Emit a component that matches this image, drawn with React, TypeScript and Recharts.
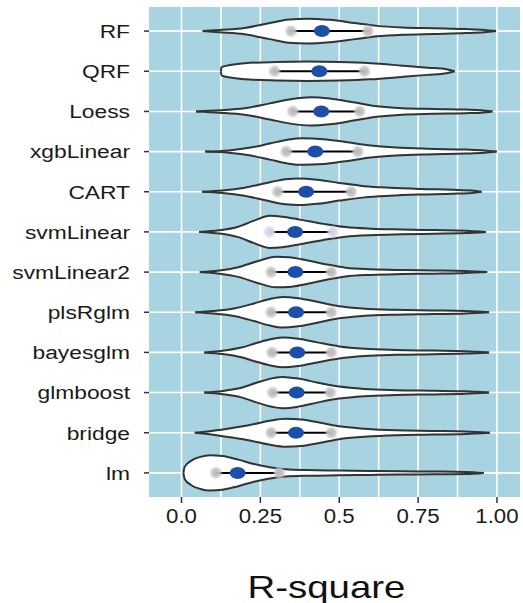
import { Area, CartesianGrid, ComposedChart, Line, Scatter, XAxis, YAxis } from 'recharts';

const MODELS = ['RF', 'QRF', 'Loess', 'xgbLinear', 'CART', 'svmLinear', 'svmLinear2', 'plsRglm', 'bayesglm', 'glmboost', 'bridge', 'lm'];
const Q25 = [0.347, 0.295, 0.353, 0.332, 0.305, 0.279, 0.284, 0.284, 0.287, 0.289, 0.284, 0.109];
const MEDIAN = [0.445, 0.437, 0.443, 0.424, 0.395, 0.36, 0.361, 0.363, 0.367, 0.365, 0.363, 0.178];
const Q75 = [0.591, 0.58, 0.565, 0.559, 0.538, 0.48, 0.475, 0.475, 0.475, 0.472, 0.475, 0.31];
const X_TICKS = [0, 0.25, 0.5, 0.75, 1];
const X_TICK_LABELS = ['0.0', '0.25', '0.5', '0.75', '1.00'];
const GRID_X = [0, 0.125, 0.25, 0.375, 0.5, 0.625, 0.75, 0.875, 1];

// violin outlines: [R-square, half width in row units]
const RF_DENSITY = [[0.067, 0], [0.12, 0.03], [0.2, 0.08], [0.28, 0.2], [0.34, 0.29], [0.4, 0.31], [0.47, 0.28], [0.55, 0.2], [0.62, 0.13], [0.7, 0.09], [0.8, 0.07], [0.9, 0.05], [0.96, 0.03], [0.997, 0]];
const QRF_DENSITY = [[0.125, 0], [0.127, 0.1], [0.15, 0.15], [0.2, 0.2], [0.3, 0.23], [0.4, 0.24], [0.5, 0.23], [0.6, 0.2], [0.7, 0.14], [0.78, 0.09], [0.84, 0.05], [0.866, 0]];
const LOESS_DENSITY = [[0.046, 0], [0.12, 0.03], [0.2, 0.08], [0.28, 0.2], [0.35, 0.31], [0.41, 0.35], [0.47, 0.32], [0.55, 0.22], [0.62, 0.13], [0.7, 0.08], [0.8, 0.06], [0.9, 0.045], [0.95, 0.03], [0.986, 0]];
const XGB_DENSITY = [[0.075, 0], [0.15, 0.03], [0.22, 0.1], [0.28, 0.2], [0.34, 0.3], [0.38, 0.33], [0.45, 0.31], [0.52, 0.24], [0.6, 0.15], [0.68, 0.1], [0.78, 0.07], [0.9, 0.05], [0.96, 0.03], [0.999, 0]];
const CART_DENSITY = [[0.065, 0], [0.13, 0.03], [0.2, 0.1], [0.27, 0.22], [0.33, 0.31], [0.37, 0.33], [0.43, 0.3], [0.5, 0.22], [0.58, 0.14], [0.66, 0.1], [0.76, 0.07], [0.86, 0.05], [0.92, 0.03], [0.951, 0]];
const SVM_DENSITY = [[0.056, 0], [0.12, 0.04], [0.18, 0.13], [0.23, 0.28], [0.28, 0.4], [0.32, 0.38], [0.38, 0.3], [0.45, 0.2], [0.52, 0.12], [0.6, 0.08], [0.7, 0.06], [0.8, 0.045], [0.9, 0.03], [0.965, 0]];
const SVM2_DENSITY = [[0.058, 0], [0.12, 0.04], [0.18, 0.12], [0.24, 0.27], [0.3, 0.38], [0.34, 0.37], [0.4, 0.29], [0.46, 0.19], [0.52, 0.11], [0.6, 0.07], [0.7, 0.05], [0.8, 0.04], [0.9, 0.025], [0.969, 0]];
const PLSR_DENSITY = [[0.044, 0], [0.1, 0.03], [0.17, 0.1], [0.23, 0.22], [0.28, 0.33], [0.32, 0.38], [0.37, 0.35], [0.43, 0.26], [0.5, 0.15], [0.58, 0.09], [0.68, 0.06], [0.8, 0.045], [0.9, 0.03], [0.975, 0]];
const BAYES_DENSITY = [[0.072, 0], [0.13, 0.04], [0.19, 0.12], [0.24, 0.24], [0.29, 0.34], [0.32, 0.37], [0.37, 0.34], [0.43, 0.25], [0.5, 0.15], [0.58, 0.09], [0.68, 0.06], [0.8, 0.045], [0.9, 0.03], [0.975, 0]];
const GLMB_DENSITY = [[0.072, 0], [0.13, 0.04], [0.19, 0.12], [0.24, 0.25], [0.29, 0.36], [0.32, 0.39], [0.37, 0.35], [0.43, 0.25], [0.5, 0.15], [0.58, 0.09], [0.68, 0.06], [0.8, 0.045], [0.9, 0.03], [0.975, 0]];
const BRIDGE_DENSITY = [[0.042, 0], [0.1, 0.05], [0.16, 0.12], [0.22, 0.2], [0.28, 0.3], [0.33, 0.35], [0.38, 0.33], [0.44, 0.25], [0.5, 0.16], [0.58, 0.1], [0.68, 0.06], [0.8, 0.045], [0.9, 0.03], [0.977, 0]];
const LM_DENSITY = [[0.006, 0], [0.01, 0.15], [0.03, 0.3], [0.06, 0.4], [0.09, 0.44], [0.13, 0.42], [0.18, 0.33], [0.23, 0.22], [0.28, 0.14], [0.33, 0.09], [0.4, 0.07], [0.5, 0.06], [0.6, 0.05], [0.7, 0.04], [0.8, 0.035], [0.9, 0.025], [0.958, 0]];

const DENSITIES = [RF_DENSITY, QRF_DENSITY, LOESS_DENSITY, XGB_DENSITY, CART_DENSITY, SVM_DENSITY, SVM2_DENSITY, PLSR_DENSITY, BAYES_DENSITY, GLMB_DENSITY, BRIDGE_DENSITY, LM_DENSITY];

const FONT = '"Liberation Sans", Arial, Helvetica, sans-serif';
const PANEL = '#a8d3e0';

const violinData = DENSITIES.map((d, i) => d.map(([x, w]) => ({ x, band: [i - w, i + w] })));
const iqrData = MODELS.map((_, i) => [{ x: Q25[i], v: i }, { x: Q75[i], v: i }]);
const quartileDots = MODELS.flatMap((m, i) => [
  { x: Q25[i], v: i, lav: m === 'svmLinear' },
  { x: Q75[i], v: i, lav: m === 'svmLinear' },
]);
const medianDots = MODELS.map((_, i) => ({ x: MEDIAN[i], v: i }));

function ModelTick({ x, y, payload }: any) {
  return (
    <g transform={`translate(${x},${y}) scale(1.2,1)`}>
      <text textAnchor="end" dy="0.36em" fontSize={19} fill="#1a1a1a" fontFamily={FONT}>
        {MODELS[payload.value]}
      </text>
    </g>
  );
}

function ValueTick({ x, y, payload }: any) {
  const idx = X_TICKS.indexOf(payload.value);
  return (
    <g transform={`translate(${x},${y}) scale(1.06,1)`}>
      <text textAnchor="middle" dy="0.71em" fontSize={21} fill="#1a1a1a" fontFamily={FONT}>
        {X_TICK_LABELS[idx]}
      </text>
    </g>
  );
}

function AxisTitle(props: any) {
  const vb = props.viewBox || { x: 149, y: 497, width: 371, height: 106 };
  const cx = vb.x + vb.width / 2 - 8;
  const by = vb.y + vb.height - 5;
  return (
    <g transform={`translate(${cx},${by}) scale(1.2,1)`}>
      <text textAnchor="middle" fontSize={32} fill="#111" fontFamily={FONT}>R-square</text>
    </g>
  );
}

function QuartileDot({ cx, cy, payload }: any) {
  return <circle cx={cx} cy={cy} r={7} fill={payload.lav ? 'url(#lavDot)' : 'url(#grayDot)'} />;
}

function MedianDot({ cx, cy }: any) {
  return <ellipse cx={cx} cy={cy} rx={8} ry={6} fill="#1d4ea8" />;
}

export default function App() {
  return (
    <div style={{ position: 'absolute', left: 0, top: 0, background: '#fff' }}>
      <ComposedChart width={523} height={603} margin={{ top: 7, right: 3, bottom: 0, left: 0 }}>
        <defs>
          <radialGradient id="grayDot">
            <stop offset="0%" stopColor="#b8b8b8" stopOpacity={1} />
            <stop offset="55%" stopColor="#c2c2c2" stopOpacity={0.9} />
            <stop offset="100%" stopColor="#d0d0d0" stopOpacity={0} />
          </radialGradient>
          <radialGradient id="lavDot">
            <stop offset="0%" stopColor="#cfd0ea" stopOpacity={1} />
            <stop offset="55%" stopColor="#d6d7ee" stopOpacity={0.9} />
            <stop offset="100%" stopColor="#dcdcf0" stopOpacity={0} />
          </radialGradient>
        </defs>
        <CartesianGrid
          fill={PANEL}
          fillOpacity={1}
          stroke="#ffffff"
          strokeWidth={1.6}
          verticalValues={GRID_X}
          horizontalValues={MODELS.map((_, i) => i)}
        />
        <XAxis
          type="number"
          dataKey="x"
          domain={[-0.103, 1.073]}
          allowDataOverflow
          ticks={X_TICKS}
          tick={<ValueTick />}
          tickSize={6}
          tickMargin={5}
          tickLine={{ stroke: '#333', strokeWidth: 1.5 }}
          axisLine={false}
          height={106}
          label={<AxisTitle />}
        />
        <YAxis
          type="number"
          domain={[-0.6, 11.6]}
          allowDataOverflow
          reversed
          ticks={MODELS.map((_, i) => i)}
          interval={0}
          tick={<ModelTick />}
          tickSize={5}
          tickMargin={14}
          tickLine={{ stroke: '#333', strokeWidth: 1.5 }}
          axisLine={false}
          width={149}
        />
        {violinData.map((d, i) => (
          <Area
            key={MODELS[i]}
            data={d}
            dataKey="band"
            type="monotone"
            stroke="#333"
            strokeWidth={2}
            fill="#ffffff"
            fillOpacity={1}
            dot={false}
            activeDot={false}
            isAnimationActive={false}
          />
        ))}
        <Scatter data={quartileDots} dataKey="v" shape={<QuartileDot />} isAnimationActive={false} />
        {iqrData.map((d, i) => (
          <Line
            key={'iqr-' + MODELS[i]}
            data={d}
            dataKey="v"
            stroke="#000"
            strokeWidth={2}
            dot={false}
            activeDot={false}
            isAnimationActive={false}
          />
        ))}
        <Scatter data={medianDots} dataKey="v" shape={<MedianDot />} isAnimationActive={false} />
      </ComposedChart>
    </div>
  );
}
